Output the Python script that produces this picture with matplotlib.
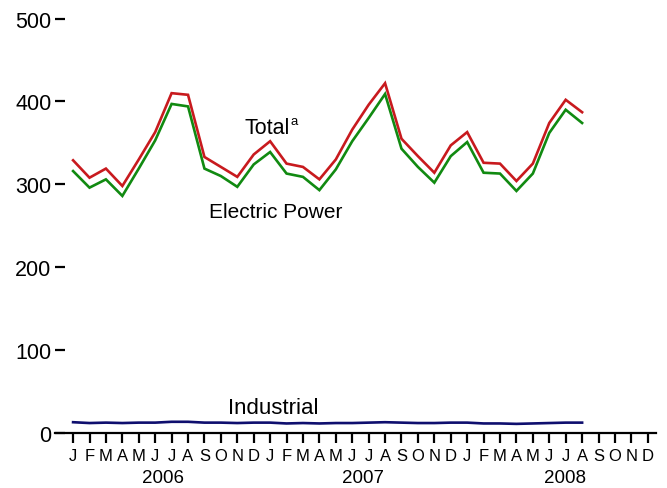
import matplotlib
matplotlib.use("Agg")
import matplotlib.pyplot as plt
import matplotlib.transforms as mtransforms

plt.rcParams['font.family'] = ['Liberation Sans', 'DejaVu Sans']

months = ["J", "F", "M", "A", "M", "J", "J", "A", "S", "O", "N", "D"] * 3
years = ["2006", "2007", "2008"]
year_pos = [5.45, 17.65, 29.95]
yticks = [0, 100, 200, 300, 400, 500]

total = [329, 308, 319, 298, 330, 363, 410, 408, 333, 321, 309, 336,
         352, 325, 321, 306, 330, 366, 396, 422, 355, 334, 314, 347,
         363, 326, 325, 304, 325, 374, 402, 387]
electric = [316, 296, 306, 286, 319, 353, 397, 394, 319, 310, 297, 324,
            339, 313, 309, 293, 318, 352, 380, 409, 343, 321, 302, 334,
            351, 314, 313, 292, 313, 362, 390, 374]
industrial = [13, 12, 12.5, 12, 12.5, 12.5, 13.5, 13.5, 12.5, 12.5, 12, 12.5,
              12.5, 11.5, 12, 11.5, 12, 12, 12.5, 13, 12.5, 12, 12, 12.5,
              12.5, 11.5, 11.5, 11, 11.5, 12, 12.5, 12.5]

fig = plt.figure(figsize=(6.67, 4.89), dpi=100)
ax = fig.add_axes([0.0825, 0.1125, 0.9835 - 0.0825, 0.960 - 0.1125])

x = list(range(len(total)))
ax.plot(x, total, color='#C81A1E', lw=1.9, solid_joinstyle='miter')
ax.plot(x, electric, color='#118A11', lw=1.9, solid_joinstyle='miter')
ax.plot(x, industrial, color='#0E0E6E', lw=1.9)

ax.set_xlim(-1.1, 35.5)
ax.set_ylim(0, 500)

for s in ['top', 'right', 'left']:
    ax.spines[s].set_visible(False)
ax.spines['bottom'].set_linewidth(1.6)

ax.set_yticks(yticks)
ax.set_yticklabels([str(v) for v in yticks], fontsize=15.5)
ax.tick_params(axis='y', direction='in', length=7.5, width=1.6, pad=2.5)

ax.set_xticks(range(36))
ax.set_xticklabels(months, fontsize=12)
ax.tick_params(axis='x', direction='out', length=7, width=1.6, pad=3.5)

trans = mtransforms.blended_transform_factory(ax.transData, ax.transAxes)
for yr, p in zip(years, year_pos):
    ax.text(p, -0.086, yr, transform=trans, ha='center', va='top', fontsize=13.5)

ax.text(10.45, 362, "Total", fontsize=15.5, ha='left', va='baseline')
ax.text(13.25, 373, "a", fontsize=9.5, ha='left', va='baseline')
ax.text(8.25, 260, "Electric Power", fontsize=15, ha='left', va='baseline')
ax.text(9.45, 24, "Industrial", fontsize=16, ha='left', va='baseline')

fig.savefig("out.png", dpi=100)
